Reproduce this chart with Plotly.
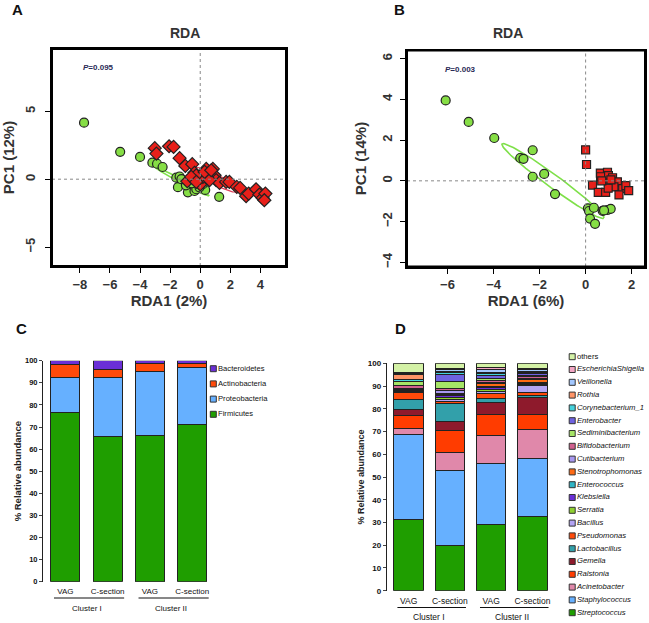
import numpy as np
import plotly.graph_objects as go

FONT = "Liberation Sans, Arial, sans-serif"

# ---------------- Panel A (RDA) ----------------
a_green_x = [-7.72, -5.32, -4.0, -3.18, -2.87, -2.50, -1.59, -1.37, -1.10, -1.48, -0.82, -0.38,
             -0.26, 0.33, 0.17, 1.26, -0.71, -0.95, -0.05, 0.05, -0.55, -1.25]
a_green_y = [4.17, 2.02, 1.64, 1.22, 1.14, 0.90, 0.11, 0.20, -0.18, -0.59, -0.97, -0.87,
             -0.74, -0.79, -0.37, -1.30, -0.07, -0.45, -0.60, -0.20, -0.30, 0.0]
a_red_x = [-3.02, -2.91, -2.07, -1.77, -1.37, -0.99, -0.53, -0.86, -0.38, -0.15, 0.07, 0.0,
           0.40, 0.51, 0.84, 0.95, 1.06, 1.28, 1.72, 1.94, 2.43, 2.65, 3.05, 3.22, 3.71,
           3.93, 4.15, 4.33, 4.26, 0.18, -0.26, 0.62, 0.29, -0.60, -0.26, 0.73]
a_red_y = [2.29, 1.89, 2.43, 2.38, 1.55, 0.98, 1.11, -0.15, 0.47, 0.05, -0.20, -0.39,
           0.76, 0.42, 0.76, 0.29, -0.07, -0.27, -0.20, -0.20, -0.57, -0.64, -1.25, -1.06, -0.74,
           -1.13, -1.38, -1.06, -1.55, 0.17, 0.29, -0.07, 0.54, 0.17, -0.20, 0.66]
# ellipse: centre x, centre y, axis-1 vector (x, y), axis-2 vector (x, y)
a_ell_green = [-1.2, -0.17, 1.8, -1.07, 0.06, 0.12]
a_ell_red = [1.1, -0.05, 1.45, -0.85, 0.12, 0.35]
a_pval = "0.095"

# ---------------- Panel B (RDA) ----------------
b_green_x = [-6.08, -5.08, -3.97, -2.30, -2.84, -2.70, -1.80, -2.30, -1.33, 0.10, 0.15, 0.36,
             0.19, 0.41, 0.74, 0.96, 1.09, 0.80]
b_green_y = [3.94, 2.89, 2.10, 1.50, 1.12, 1.08, 0.34, 0.20, -0.65, -1.35, -1.48, -1.32,
             -1.85, -2.11, -1.47, -1.43, -1.37, -1.45]
b_red_x = [0.0, 0.04, 0.64, 0.95, 0.99, 1.17, 0.65, 0.30, 0.55, 0.87, 1.0, 1.38, 1.23, 1.61,
           1.75, 1.87, 1.45, 0.98, 1.10, 0.70]
b_red_y = [1.52, 0.80, 0.38, 0.42, 0.26, 0.15, 0.20, -0.21, -0.57, -0.57, -0.10, -0.05, -0.30,
           -0.38, -0.23, -0.48, -0.69, -0.36, 0.05, 0.0]
b_ell_green = [-1.42, -0.01, 2.21, -1.82, 0.16, 0.26]
b_ell_red = [1.2, -0.25, 0.5, -0.22, 0.05, 0.1]
b_pval = "0.003"

# ---------------- Panel C (phyla) ----------------
groups = ["VAG", "C-section", "VAG", "C-section"]
clusters = ["Cluster I", "Cluster II"]
phyla = ["Firmicutes", "Proteobacteria", "Actinobacteria", "Bacteroidetes"]
phyla_colors = ["#1f9e00", "#66b0ff", "#ff4a0a", "#6a2fd6"]
c_vag1 = [76.6, 15.9, 5.8, 1.7]
c_cs1 = [65.9, 26.4, 3.8, 3.9]
c_vag2 = [66.2, 29.1, 3.5, 1.2]
c_cs2 = [71.2, 25.9, 1.7, 1.2]

# ---------------- Panel D (genera) ----------------
genera = ["Streptococcus", "Staphylococcus", "Acinetobacter", "Ralstonia", "Gemella",
          "Lactobacillus", "Pseudomonas", "Bacillus", "Serratia", "Klebsiella", "Enterococcus",
          "Stenotrophomonas", "Cutibacterium", "Bifidobacterium", "Sediminibacterium",
          "Enterobacter", "Corynebacterium_1", "Rothia", "Veillonella", "EscherichiaShigella",
          "others"]
genera_colors = ["#1f9e00", "#66b0ff", "#e088aa", "#ff3c00", "#8e1a2c", "#32a0aa", "#ff4a0a",
                 "#b4a4f4", "#8fd030", "#6a2fd6", "#2fb4c4", "#ff6a14", "#a898f0", "#d0608e",
                 "#a6e466", "#6f62e0", "#44d2dc", "#ff9466", "#a4c8ff", "#f2a6c4", "#d4f2a6"]
d_vag1 = [31.1, 37.5, 2.7, 5.7, 2.8, 4.4, 2.9, 0.3, 0.3, 0.3, 0.3, 0.3, 0.4, 1.4, 1.5, 0.3,
          0.8, 2.1, 0.5, 0.4, 4.0]
d_cs1 = [19.8, 33.0, 7.9, 9.7, 3.9, 8.1, 1.0, 0.5, 1.2, 0.6, 0.6, 0.6, 1.0, 1.0, 3.0, 3.0,
         1.1, 0.6, 0.6, 0.6, 2.2]
d_vag2 = [29.3, 26.7, 12.2, 9.1, 5.5, 1.5, 2.5, 0.7, 0.8, 1.1, 0.6, 1.0, 0.7, 0.6, 1.2, 1.0,
          0.8, 0.8, 1.0, 1.2, 1.7]
d_cs2 = [32.6, 25.6, 12.5, 7.0, 7.1, 0.9, 1.5, 2.9, 0.5, 0.5, 0.5, 1.1, 0.7, 0.7, 0.7, 0.8,
         0.5, 0.5, 0.6, 0.7, 2.1]

W, H = 649, 623


def px_x(p):
    return p / W


def px_y(p):
    return 1 - p / H


def ellipse(par):
    t = np.linspace(0, 2 * np.pi, 120)
    cx, cy, ax, ay, bx, by = par
    return cx + ax * np.cos(t) + bx * np.sin(t), cy + ay * np.cos(t) + by * np.sin(t)


GREEN = "#86de45"
RED = "#e8201a"
fig = go.Figure()

# ---- scatter panels ----
for (gx, gy, rx, ry, eg, er, xa, ya, rsym, rsize) in [
    (a_green_x, a_green_y, a_red_x, a_red_y, a_ell_green, a_ell_red, "x", "y", "diamond", 10),
    (b_green_x, b_green_y, b_red_x, b_red_y, b_ell_green, b_ell_red, "x2", "y2", "square", 8),
]:
    ex, ey = ellipse(eg)
    fig.add_trace(go.Scatter(x=ex, y=ey, mode="lines", line=dict(color="#7fe04a", width=1.6),
                             xaxis=xa, yaxis=ya, showlegend=False, hoverinfo="skip"))
    ex, ey = ellipse(er)
    fig.add_trace(go.Scatter(x=ex, y=ey, mode="lines", line=dict(color="#e0405a", width=1.2),
                             xaxis=xa, yaxis=ya, showlegend=False, hoverinfo="skip"))
    fig.add_trace(go.Scatter(x=gx, y=gy, mode="markers", xaxis=xa, yaxis=ya, showlegend=False,
                             marker=dict(symbol="circle", size=9, color=GREEN,
                                         line=dict(color="#222", width=1.2))))
    fig.add_trace(go.Scatter(x=rx, y=ry, mode="markers", xaxis=xa, yaxis=ya, showlegend=False,
                             marker=dict(symbol=rsym, size=rsize, color=RED,
                                         line=dict(color="#222", width=1.2))))

# ---- bar panels ----
xpos = list(range(len(groups)))
c_cols = [c_vag1, c_cs1, c_vag2, c_cs2]
for i, name in enumerate(phyla):
    fig.add_trace(go.Bar(x=xpos, y=[col[i] for col in c_cols], name=name, xaxis="x3", yaxis="y3",
                         marker=dict(color=phyla_colors[i], line=dict(color="#222", width=1)),
                         width=0.69, showlegend=False))
d_cols = [d_vag1, d_cs1, d_vag2, d_cs2]
for i, name in enumerate(genera):
    fig.add_trace(go.Bar(x=xpos, y=[col[i] for col in d_cols], name=name, xaxis="x4", yaxis="y4",
                         marker=dict(color=genera_colors[i], line=dict(color="#222", width=1)),
                         width=0.71, showlegend=False))

# ---- legend panels (drawn as marker+text on hidden axes) ----
fig.add_trace(go.Scatter(x=[0.3] * len(phyla), y=list(range(len(phyla))), mode="markers+text",
                         xaxis="x5", yaxis="y5", text=phyla, textposition="middle right",
                         textfont=dict(family=FONT, size=7.6, color="#111"), showlegend=False,
                         cliponaxis=False,
                         marker=dict(symbol="square", size=6, color=phyla_colors,
                                     line=dict(color="#333", width=1))))
gen_text = [g if g == "others" else "<i>" + g + "</i>" for g in genera]
fig.add_trace(go.Scatter(x=[0.4] * len(genera), y=list(range(len(genera))), mode="markers+text",
                         xaxis="x6", yaxis="y6", text=gen_text, textposition="middle right",
                         textfont=dict(family=FONT, size=7.7, color="#111"), showlegend=False,
                         cliponaxis=False,
                         marker=dict(symbol="square", size=6, color=genera_colors,
                                     line=dict(color="#333", width=1))))

tickfont_sc = dict(family=FONT, size=13, color="#333", weight="bold")
titlefont_sc = dict(family=FONT, size=15, color="#333", weight="bold")
common_sc = dict(showline=True, mirror=True, linecolor="black", linewidth=2,
                 ticks="outside", automargin=False,
                 ticklen=5, tickwidth=1, tickcolor="black", showgrid=False, zeroline=False,
                 tickfont=tickfont_sc)

fig.update_layout(
    width=W, height=H, margin=dict(l=0, r=0, t=0, b=0, autoexpand=False), plot_bgcolor="white",
    paper_bgcolor="white", barmode="stack", font=dict(family=FONT),
    xaxis=dict(domain=[px_x(52), px_x(286)], range=[-9.85, 5.7], tickvals=[-8, -6, -4, -2, 0, 2, 4],
               anchor="y", title=dict(text="RDA1 (2%)", font=titlefont_sc, standoff=4), **common_sc),
    yaxis=dict(domain=[px_y(266), px_y(49)], range=[-6.4, 9.6], tickvals=[-5, 0, 5], tickangle=-90,
               anchor="x", ticklabelstandoff=5,
               title=dict(text="PC1 (12%)", font=titlefont_sc, standoff=8), **common_sc),
    xaxis2=dict(domain=[px_x(407), px_x(645)], range=[-7.76, 2.58], tickvals=[-6, -4, -2, 0, 2],
                anchor="y2", title=dict(text="RDA1 (6%)", font=titlefont_sc, standoff=4), **common_sc),
    yaxis2=dict(domain=[px_y(266.5), px_y(50.5)], range=[-4.2, 6.39], tickvals=[-4, -2, 0, 2, 4, 6],
                tickangle=-90, anchor="x2", ticklabelstandoff=3,
                title=dict(text="PC1 (14%)", font=titlefont_sc, standoff=10), **common_sc),
    xaxis3=dict(domain=[px_x(43), px_x(214.6)], range=[-0.53, 3.53], tickvals=xpos, ticktext=groups,
                anchor="y3", showline=False, ticks="", showgrid=False, zeroline=False, automargin=False,
                ticklabelstandoff=3, tickfont=dict(family=FONT, size=8, color="#111")),
    yaxis3=dict(domain=[px_y(581.7), px_y(360.7)], range=[0, 100], dtick=10, anchor="x3",
                showline=True, linecolor="#222", linewidth=1, ticks="outside", ticklen=3,
                showgrid=False, zeroline=False, automargin=False,
                tickfont=dict(family=FONT, size=7.5, color="#111", weight="bold"),
                title=dict(text="% Relative abundance", standoff=1,
                           font=dict(family=FONT, size=9.5, color="#222", weight="bold"))),
    xaxis4=dict(domain=[px_x(386.7), px_x(554.3)], range=[-0.53, 3.53], tickvals=xpos, ticktext=groups,
                anchor="y4", showline=False, ticks="", showgrid=False, zeroline=False, automargin=False,
                ticklabelstandoff=4, tickfont=dict(family=FONT, size=8.5, color="#111")),
    yaxis4=dict(domain=[px_y(590.7), px_y(363.3)], range=[0, 100], dtick=10, anchor="x4",
                showline=True, linecolor="#222", linewidth=1, ticks="outside", ticklen=3,
                showgrid=False, zeroline=False, automargin=False,
                tickfont=dict(family=FONT, size=8, color="#111", weight="bold"),
                title=dict(text="% Relative abundance", standoff=1,
                           font=dict(family=FONT, size=9, color="#222", weight="bold"))),
    xaxis5=dict(domain=[px_x(210), px_x(320)], range=[0, 10], visible=False, anchor="y5"),
    yaxis5=dict(domain=[px_y(421.9), px_y(361.1)], range=[-0.5, 3.5], visible=False, anchor="x5"),
    xaxis6=dict(domain=[px_x(569), 1.0], range=[0, 10], visible=False, anchor="y6"),
    yaxis6=dict(domain=[px_y(619.1), px_y(350.3)], range=[-0.5, 20.5], visible=False, anchor="x6"),
)

# frame + dotted reference lines at zero
frames = [((52, 286), (49, 266)), ((407, 645), (50.5, 266.5))]
for (xa, ya), (fx, fy) in zip([("x", "y"), ("x2", "y2")], frames):
    fig.add_shape(type="line", xref=xa, yref=ya + " domain", x0=0, x1=0, y0=0, y1=1,
                  line=dict(color="#888", width=1, dash="dot"))
    fig.add_shape(type="line", xref=xa + " domain", yref=ya, x0=0, x1=1, y0=0, y1=0,
                  line=dict(color="#888", width=1, dash="dot"))
    fig.add_shape(type="rect", xref="paper", yref="paper", x0=px_x(fx[0]), x1=px_x(fx[1]),
                  y0=px_y(fy[1]), y1=px_y(fy[0]), line=dict(color="black", width=2),
                  fillcolor="rgba(0,0,0,0)", layer="above")

annotations = []
# panel letters
for letter, x, y in [("A", 17, 9), ("B", 399, 9), ("C", 21, 328), ("D", 400, 328)]:
    annotations.append(dict(text="<b>" + letter + "</b>", x=px_x(x), y=px_y(y), xref="paper",
                            yref="paper", showarrow=False, xanchor="center", yanchor="middle",
                            font=dict(family=FONT, size=15, color="#111")))
# RDA titles
for x in [168, 525]:
    annotations.append(dict(text="<b>RDA</b>", x=px_x(x), y=px_y(33), xref="paper", yref="paper",
                            showarrow=False, yanchor="middle",
                            font=dict(family=FONT, size=14, color="#333")))
# p-values
annotations.append(dict(text="<i>P</i>=" + a_pval, x=-7.9, y=8.2, xref="x", yref="y",
                        showarrow=False, xanchor="left",
                        font=dict(family=FONT, size=8, color="#2a2a55", weight="bold")))
annotations.append(dict(text="<i>P</i>=" + b_pval, x=-6.18, y=5.48, xref="x2", yref="y2",
                        showarrow=False, xanchor="left",
                        font=dict(family=FONT, size=8, color="#2a2a55", weight="bold")))

# cluster labels and lines
for xa, yline, ytext, fs in [("x3", 598, 608, 8), ("x4", 607.5, 617, 8.5)]:
    for k, cl in enumerate(clusters):
        x0 = 2 * k - 0.27
        x1 = 2 * k + 1.39
        fig.add_shape(type="line", xref=xa, yref="paper", x0=x0, x1=x1, y0=px_y(yline),
                      y1=px_y(yline), line=dict(color="#111", width=1))
        annotations.append(dict(text=cl, x=2 * k + 0.5, y=px_y(ytext), xref=xa, yref="paper",
                                showarrow=False, yanchor="middle",
                                font=dict(family=FONT, size=fs, color="#111")))

fig.update_layout(annotations=annotations)
fig.write_html("out.html", config={"displayModeBar": False},
               post_script="document.body.style.margin='0px';")
